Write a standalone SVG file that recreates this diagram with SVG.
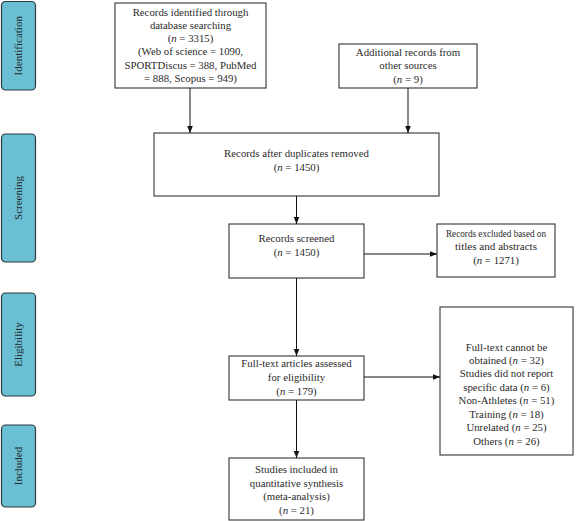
<svg xmlns="http://www.w3.org/2000/svg" width="578" height="521" viewBox="0 0 578 521">
<defs>
<marker id="ah" markerUnits="userSpaceOnUse" markerWidth="8" markerHeight="8" refX="7" refY="4" orient="auto">
<path d="M0,1.2 L7,4 L0,6.8 Z" fill="#111"/>
</marker>
<style>
.side rect{fill:#6bbfd3;stroke:#2d3b40;stroke-width:1.2}
.side text{font-family:"Liberation Serif",serif;font-size:11px;fill:#1e2a2e;text-anchor:middle}
.box rect{fill:#fff;stroke:#444;stroke-width:1.2}
.box text{font-family:"Liberation Serif",serif;font-size:10.8px;fill:#2a2a2a;text-anchor:middle}
.conn line{stroke:#111;stroke-width:1;marker-end:url(#ah)}
</style>
</defs>
<rect width="578" height="521" fill="#fff"/>
<g id="stage-identification" class="side"><rect x="1.5" y="1.5" width="34" height="88.5" rx="4"/><text transform="translate(22,45.75) rotate(-90)">Identification</text></g>
<g id="stage-screening" class="side"><rect x="1.5" y="134" width="34" height="128" rx="4"/><text transform="translate(22,198) rotate(-90)">Screening</text></g>
<g id="stage-eligibility" class="side"><rect x="1.5" y="293" width="34" height="103" rx="4"/><text transform="translate(22,344.5) rotate(-90)">Eligibility</text></g>
<g id="stage-included" class="side"><rect x="1.5" y="425" width="34" height="82" rx="4"/><text transform="translate(22,466) rotate(-90)">Included</text></g>

<g id="identified" class="box"><rect x="115" y="3" width="151" height="85"/>
<text x="190.5" y="15.5">Records identified through</text>
<text x="190.5" y="28.8">database searching</text>
<text x="190.5" y="42.1">(<tspan font-style="italic">n</tspan> = 3315)</text>
<text x="190.5" y="55.4">(Web of science = 1090,</text>
<text x="190.5" y="68.7">SPORTDiscus = 388, PubMed</text>
<text x="190.5" y="82">= 888, Scopus = 949)</text></g>

<g id="additional" class="box"><rect x="339" y="44" width="138" height="44"/>
<text x="408" y="55.5">Additional records from</text>
<text x="408" y="69">other sources</text>
<text x="408" y="82.5">(<tspan font-style="italic">n</tspan> = 9)</text></g>

<g id="deduplicated" class="box"><rect x="154" y="133" width="285" height="63"/>
<text x="296.5" y="157">Records after duplicates removed</text>
<text x="296.5" y="170.5">(<tspan font-style="italic">n</tspan> = 1450)</text></g>

<g id="screened" class="box"><rect x="229" y="224" width="135" height="54"/>
<text x="296.5" y="242">Records screened</text>
<text x="296.5" y="256">(<tspan font-style="italic">n</tspan> = 1450)</text></g>

<g id="excluded-titles" class="box"><rect x="437" y="224" width="118" height="53"/>
<text x="496" y="236.5" textLength="100" lengthAdjust="spacingAndGlyphs">Records excluded based on</text>
<text x="496" y="250" textLength="82" lengthAdjust="spacingAndGlyphs">titles and abstracts</text>
<text x="496" y="263.5">(<tspan font-style="italic">n</tspan> = 1271)</text></g>

<g id="fulltext" class="box"><rect x="229" y="356" width="135" height="44"/>
<text x="296.5" y="367">Full-text articles assessed</text>
<text x="296.5" y="381">for eligibility</text>
<text x="296.5" y="394.5">(<tspan font-style="italic">n</tspan> = 179)</text></g>

<g id="excluded-fulltext" class="box"><rect x="440" y="307" width="133" height="148"/>
<text x="506.5" y="350.5">Full-text cannot be</text>
<text x="506.5" y="363.9">obtained (<tspan font-style="italic">n</tspan> = 32)</text>
<text x="506.5" y="377.4">Studies did not report</text>
<text x="506.5" y="390.8">specific data (<tspan font-style="italic">n</tspan> = 6)</text>
<text x="506.5" y="404.2">Non-Athletes (<tspan font-style="italic">n</tspan> = 51)</text>
<text x="506.5" y="417.7">Training (<tspan font-style="italic">n</tspan> = 18)</text>
<text x="506.5" y="431.1">Unrelated (<tspan font-style="italic">n</tspan> = 25)</text>
<text x="506.5" y="444.5">Others (<tspan font-style="italic">n</tspan> = 26)</text></g>

<g id="included" class="box"><rect x="229" y="458" width="135" height="62"/>
<text x="296.5" y="473">Studies included in</text>
<text x="296.5" y="486.5">quantitative synthesis</text>
<text x="296.5" y="500">(meta-analysis)</text>
<text x="296.5" y="513.5">(<tspan font-style="italic">n</tspan> = 21)</text></g>

<g id="connectors" class="conn">
<line x1="190" y1="88" x2="190" y2="133"/>
<line x1="408" y1="88" x2="408" y2="133"/>
<line x1="296.5" y1="196" x2="296.5" y2="224"/>
<line x1="364" y1="254" x2="437" y2="254"/>
<line x1="296.5" y1="278" x2="296.5" y2="356"/>
<line x1="364" y1="377" x2="440" y2="377"/>
<line x1="296.5" y1="400" x2="296.5" y2="458"/>
</g>
</svg>
